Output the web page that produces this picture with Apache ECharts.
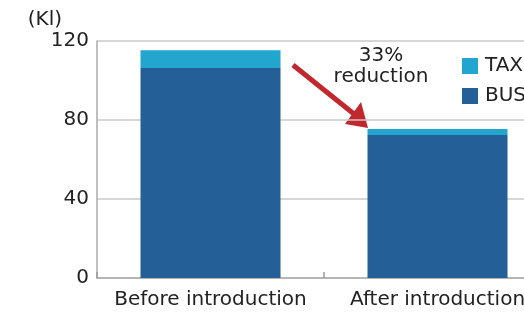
<!DOCTYPE html>
<html>
<head>
<meta charset="utf-8">
<script src="https://cdn.jsdelivr.net/npm/echarts@6/dist/echarts.min.js"></script>
<style>
html, body { margin: 0; padding: 0; background: #fff; overflow: hidden; }
#chart { width: 524px; height: 316px; }
</style>
</head>
<body>
<div id="chart"></div>
<script>
var categories = ['Before introduction', 'After introduction'];
var busValues = [106.3, 72.4];
var taxiValues = [9, 3];
var yTicks = [0, 40, 80, 120];

var myChart = echarts.init(document.getElementById('chart'));

var font = 'DejaVu Sans, sans-serif';

var option = {
	animation: false,
	textStyle: { fontFamily: font },
	grid: {
		left: 97,
		top: 41,
		bottom: 38,
		width: 454,
		outerBoundsMode: 'none'
	},
	legend: {
		orient: 'vertical',
		left: 457,
		top: 51,
		itemWidth: 16,
		itemHeight: 16,
		itemGap: 10,
		icon: 'rect',
		textStyle: { fontSize: 20, color: '#222', fontFamily: font, padding: [0, 0, 0, 2] },
		data: ['TAXI', 'BUS']
	},
	xAxis: {
		type: 'category',
		data: categories,
		axisLine: { lineStyle: { color: '#aaa', width: 1.5 } },
		axisTick: { show: true, length: 6, inside: true, lineStyle: { color: '#999', width: 1.5 } },
		axisLabel: {
			fontSize: 20,
			color: '#222',
			margin: 12,
			interval: 0,
			showMinLabel: true,
			showMaxLabel: true,
			hideOverlap: false
		}
	},
	yAxis: {
		type: 'value',
		name: '(Kl)',
		nameLocation: 'end',
		nameGap: 11,
		nameTextStyle: { fontSize: 20, color: '#222', align: 'right', padding: [0, 35, 0, 0] },
		min: 0,
		max: 120,
		interval: 40,
		axisLine: { show: true, lineStyle: { color: '#aaa', width: 1.5 } },
		axisTick: { show: false },
		axisLabel: {
			fontSize: 20,
			color: '#222',
			margin: 8,
			formatter: function (v) { return yTicks.indexOf(v) >= 0 ? String(v) : ''; }
		},
		splitLine: { lineStyle: { color: '#c8c8c8', width: 1.5 } }
	},
	series: [{
		name: 'BUS',
		type: 'bar',
		stack: 'total',
		barWidth: 140,
		itemStyle: { color: '#245f98' },
		data: busValues
	}, {
		name: 'TAXI',
		type: 'bar',
		stack: 'total',
		itemStyle: { color: '#22a6cf' },
		data: taxiValues
	}],
	graphic: [{
		type: 'text',
		style: {
			text: '33%\nreduction',
			x: 381,
			y: 45,
			align: 'center',
			verticalAlign: 'top',
			fontSize: 20,
			lineHeight: 21,
			fill: '#222',
			fontFamily: font
		}
	}, {
		type: 'line',
		shape: { x1: 293, y1: 65, x2: 354, y2: 114 },
		style: { stroke: '#c1272d', lineWidth: 5 }
	}, {
		type: 'polygon',
		shape: { points: [[368, 128], [345, 124], [361, 102]] },
		style: { fill: '#c1272d' }
	}]
};

myChart.setOption(option);
</script>
</body>
</html>
